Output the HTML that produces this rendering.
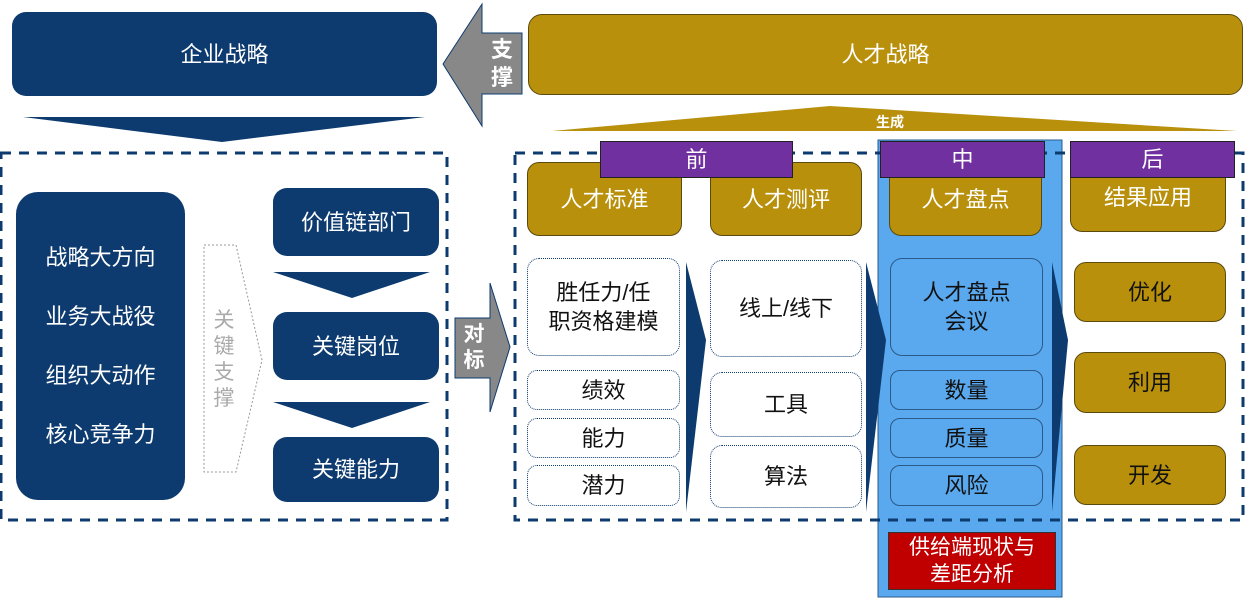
<!DOCTYPE html>
<html><head><meta charset="utf-8"><style>
body{margin:0;width:1245px;height:598px;background:#fff;position:relative;overflow:hidden;font-family:"Liberation Sans","Noto Sans CJK SC",sans-serif}
.a{position:absolute;box-sizing:border-box;display:flex;align-items:center;justify-content:center;text-align:center}
.nv{background:#0e3b6f;color:#fff;border-radius:14px}
.gd{background:#b8900c;color:#fff;border-radius:12px;border:1px solid #5a4a10}
.wt{background:#fff;color:#111;border-radius:12px;border:1px dotted #0e3b6f}
.bl{background:#5aa9ee;color:#111;border-radius:12px;border:1px solid #2a5a8a}
.pu{background:#7030a0;color:#fff;border:1px solid #222}
.t{font-size:22px;line-height:29px}
</style></head><body>
<svg width="1245" height="598" style="position:absolute;left:0;top:0">
<polygon points="23,117 425,117 222,142" fill="#0e3b6f"/>
<polygon points="443,64 482,4 482,33 522,33 522,94 482,94 482,126" fill="#888" stroke="#0e3b6f"/>
<polygon points="552,131 830,106 1237,131" fill="#b8900c"/>
<rect x="1" y="153" width="446" height="367" fill="none" stroke="#0e3b6f" stroke-width="3" stroke-dasharray="10,8"/>
<rect x="878" y="140" width="184" height="457" fill="#5aa9ee" stroke="#2a5a8a"/>
<rect x="515" y="153" width="728" height="367" fill="none" stroke="#0e3b6f" stroke-width="3" stroke-dasharray="10,8"/>
<polygon points="204,245 236,245 262,360 236,472 204,472" fill="#fff" stroke="#999" stroke-dasharray="2,2"/>
<polygon points="273,272 430,272 352,298" fill="#0e3b6f"/>
<polygon points="273,402 430,402 352,428" fill="#0e3b6f"/>
<polygon points="455,318 490,318 490,283 510,347 490,412 490,378 455,378" fill="#888" stroke="#0e3b6f"/>
<polygon points="686,262 706,340 686,512" fill="#0e3b6f"/>
<polygon points="866,262 886,340 866,512" fill="#0e3b6f"/>
<polygon points="1052,262 1068,340 1052,512" fill="#0e3b6f"/>
</svg>
<div class="a nv t" style="left:12px;top:12px;width:425px;height:84px">企业战略</div>
<div class="a" style="left:482px;top:33px;width:40px;height:61px;color:#fff;font-size:22px;font-weight:bold;line-height:28px">支<br>撑</div>
<div class="a gd t" style="left:528px;top:14px;width:715px;height:81px;border-radius:14px">人才战略</div>
<div class="a" style="left:860px;top:113px;width:60px;height:18px;color:#fff;font-size:14px;font-weight:bold">生成</div>
<div class="a nv t" style="left:16px;top:192px;width:169px;height:308px;border-radius:22px;line-height:59px">战略大方向<br>业务大战役<br>组织大动作<br>核心竞争力</div>
<div class="a" style="left:204px;top:300px;width:40px;height:120px;color:#aaa;font-size:21px;line-height:26px">关<br>键<br>支<br>撑</div>
<div class="a nv t" style="left:273px;top:188px;width:166px;height:68px">价值链部门</div>
<div class="a nv t" style="left:273px;top:312px;width:166px;height:68px">关键岗位</div>
<div class="a nv t" style="left:273px;top:437px;width:166px;height:65px">关键能力</div>
<div class="a" style="left:455px;top:318px;width:38px;height:60px;color:#fff;font-size:21px;font-weight:bold;line-height:26px">对<br>标</div>
<div class="a gd t" style="left:527px;top:162px;width:155px;height:74px">人才标准</div>
<div class="a gd t" style="left:710px;top:162px;width:152px;height:74px">人才测评</div>
<div class="a gd t" style="left:889px;top:162px;width:153px;height:74px">人才盘点</div>
<div class="a gd t" style="left:1070px;top:162px;width:156px;height:70px">结果应用</div>
<div class="a pu t" style="left:600px;top:141px;width:193px;height:37px">前</div>
<div class="a pu t" style="left:880px;top:141px;width:165px;height:37px">中</div>
<div class="a pu t" style="left:1070px;top:141px;width:165px;height:37px">后</div>
<div class="a wt t" style="left:527px;top:258px;width:153px;height:98px">胜任力/任<br>职资格建模</div>
<div class="a wt t" style="left:527px;top:370px;width:153px;height:40px;border-radius:10px">绩效</div>
<div class="a wt t" style="left:527px;top:418px;width:153px;height:40px;border-radius:10px">能力</div>
<div class="a wt t" style="left:527px;top:465px;width:153px;height:41px;border-radius:10px">潜力</div>
<div class="a wt t" style="left:710px;top:260px;width:152px;height:97px">线上/线下</div>
<div class="a wt t" style="left:710px;top:372px;width:152px;height:65px">工具</div>
<div class="a wt t" style="left:710px;top:445px;width:152px;height:63px">算法</div>
<div class="a bl t" style="left:890px;top:258px;width:153px;height:98px">人才盘点<br>会议</div>
<div class="a bl t" style="left:890px;top:370px;width:153px;height:40px;border-radius:10px">数量</div>
<div class="a bl t" style="left:890px;top:418px;width:153px;height:40px;border-radius:10px">质量</div>
<div class="a bl t" style="left:890px;top:465px;width:153px;height:41px;border-radius:10px">风险</div>
<div class="a gd t" style="left:1074px;top:262px;width:152px;height:60px;color:#111">优化</div>
<div class="a gd t" style="left:1074px;top:352px;width:152px;height:61px;color:#111">利用</div>
<div class="a gd t" style="left:1074px;top:445px;width:152px;height:60px;color:#111">开发</div>
<div class="a" style="left:888px;top:532px;width:168px;height:58px;background:#c00000;border:1px solid #333;color:#fff;font-size:21px;line-height:27px">供给端现状与<br>差距分析</div>
</body></html>
